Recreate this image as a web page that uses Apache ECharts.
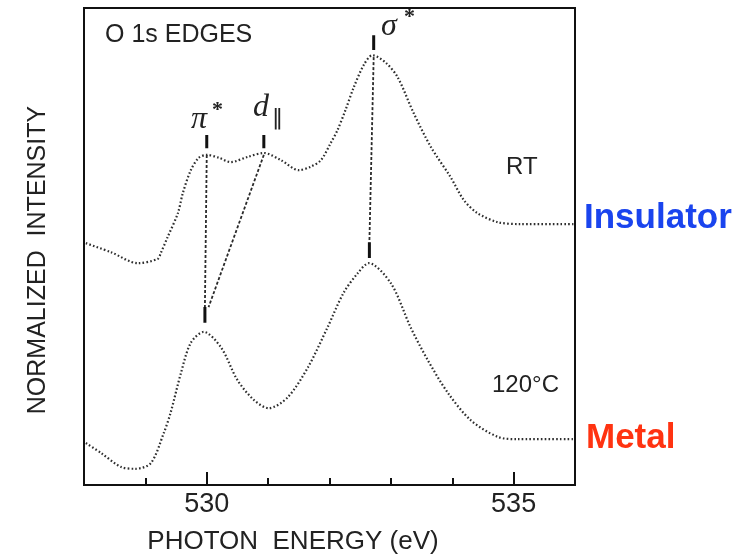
<!DOCTYPE html>
<html>
<head>
<meta charset="utf-8">
<script src="https://cdn.jsdelivr.net/npm/echarts@6/dist/echarts.min.js"></script>
<style>
  html, body { margin: 0; padding: 0; background: #fff; }
  #chart { width: 756px; height: 555px; }
</style>
</head>
<body>
<div id="chart"></div>
<script>
// O 1s edge spectra (intensity in arbitrary units, 0-100 across the frame)
const rtEnergy = [528.03, 528.44, 528.88, 529.20, 529.25, 529.36, 529.53, 529.61, 529.74, 529.87, 530.00, 530.20, 530.39, 530.67, 530.93, 531.21, 531.50, 531.69, 531.86, 532.02, 532.13, 532.26, 532.39, 532.56, 532.70, 532.92, 533.11, 533.37, 533.65, 533.97, 534.19, 534.41, 534.74, 535.11, 536.00];
const rtIntensity = [50.7, 48.8, 46.5, 47.4, 48.6, 51.9, 57.0, 61.2, 66.0, 68.6, 69.2, 68.6, 67.7, 68.8, 69.6, 68.1, 66.0, 66.7, 68.1, 71.7, 74.4, 78.6, 83.2, 88.1, 90.1, 88.5, 85.5, 78.0, 70.9, 64.6, 59.7, 57.0, 55.1, 54.7, 54.7];

const hotEnergy = [528.03, 528.28, 528.60, 528.84, 529.09, 529.30, 529.41, 529.58, 529.74, 529.95, 530.23, 530.50, 530.77, 531.01, 531.32, 531.65, 531.97, 532.23, 532.46, 532.64, 533.00, 533.32, 533.60, 533.93, 534.30, 534.74, 535.07, 536.00];
const hotIntensity = [8.8, 6.7, 3.8, 3.4, 4.6, 10.9, 15.1, 23.5, 29.8, 32.1, 28.9, 22.0, 17.8, 16.1, 18.4, 24.7, 33.1, 40.3, 44.4, 46.5, 42.3, 33.1, 26.2, 19.3, 13.6, 10.1, 9.6, 9.6];

// peak markers: [energy, from, to]
const peakTicks = [
  [530.00, 70.6, 73.4],
  [530.93, 70.6, 73.4],
  [532.72, 91.2, 94.3],
  [529.97, 34.0, 37.3],
  [532.65, 47.6, 50.9]
];
// guide lines joining the peaks of the two spectra
const guideLines = [
  [[530.00, 69.2], [529.97, 37.3]],
  [[530.93, 69.2], [530.03, 37.3]],
  [[532.72, 89.7], [532.65, 50.9]]
];
const xLabelTicks = [530, 535];

const zip = (xs, ys) => xs.map((x, i) => [x, ys[i]]);

const curveStyle = { color: '#2e2e2e', width: 2.2, type: [1.6, 2.2] };

const series = [
  { name: 'RT', type: 'line', data: zip(rtEnergy, rtIntensity), smooth: 0.3,
    showSymbol: false, lineStyle: curveStyle, silent: true },
  { name: '120°C', type: 'line', data: zip(hotEnergy, hotIntensity), smooth: 0.3,
    showSymbol: false, lineStyle: curveStyle, silent: true }
];
guideLines.forEach(seg => {
  series.push({ type: 'line', data: seg, showSymbol: false, silent: true,
    lineStyle: { color: '#2a2a2a', width: 1.8, type: [3, 2] } });
});
peakTicks.forEach(t => {
  series.push({ type: 'line', data: [[t[0], t[1]], [t[0], t[2]]], showSymbol: false, silent: true,
    lineStyle: { color: '#111', width: 3 } });
});

const sans = 'Liberation Sans, Arial, sans-serif';
const serif = 'Liberation Serif, DejaVu Serif, serif';

const chart = echarts.init(document.getElementById('chart'), null, { renderer: 'canvas' });
chart.setOption({
  animation: false,
  backgroundColor: '#fff',
  grid: {
    left: 84, right: 181, top: 8, bottom: 70,
    show: true, borderColor: '#111', borderWidth: 2,
    containLabel: false, outerBoundsMode: 'none'
  },
  xAxis: [
    {
      type: 'value', min: 528, max: 536, interval: 1, position: 'bottom',
      axisLine: { show: false },
      axisTick: { inside: true, length: 7, lineStyle: { color: '#111', width: 2 } },
      axisLabel: { show: false },
      splitLine: { show: false }
    },
    {
      type: 'value', min: 528, max: 536, interval: 1, position: 'bottom',
      axisLine: { show: false },
      axisTick: { inside: true, length: 13, customValues: xLabelTicks, lineStyle: { color: '#111', width: 2 } },
      axisLabel: { customValues: xLabelTicks, color: '#222', fontSize: 27, fontFamily: sans, margin: 6 },
      splitLine: { show: false }
    }
  ],
  yAxis: {
    type: 'value', min: 0, max: 100,
    axisLine: { show: false }, axisTick: { show: false },
    axisLabel: { show: false }, splitLine: { show: false }
  },
  graphic: [
    { type: 'text', x: 293, y: 542, style: { text: 'PHOTON  ENERGY (eV)', font: '26px ' + sans, fill: '#222', textAlign: 'center', textVerticalAlign: 'middle' } },
    { type: 'text', x: 38, y: 260, rotation: Math.PI / 2, style: { text: 'NORMALIZED  INTENSITY', font: '25px ' + sans, fill: '#222', textAlign: 'center', textVerticalAlign: 'middle' } },
    { type: 'text', x: 105, y: 35, style: { text: 'O 1s EDGES', font: '25px ' + sans, fill: '#222', textVerticalAlign: 'middle' } },
    { type: 'text', x: 506, y: 167, style: { text: 'RT', font: '24px ' + sans, fill: '#222', textVerticalAlign: 'middle' } },
    { type: 'text', x: 492, y: 385, style: { text: '120°C', font: '24px ' + sans, fill: '#222', textVerticalAlign: 'middle' } },
    { type: 'text', x: 584, y: 218, style: { text: 'Insulator', font: 'bold 35px ' + sans, fill: '#1a44ee', textVerticalAlign: 'middle' } },
    { type: 'text', x: 586, y: 438, style: { text: 'Metal', font: 'bold 35px ' + sans, fill: '#ff3311', textVerticalAlign: 'middle' } },
    { type: 'text', x: 191, y: 120, style: { text: 'π', font: 'italic 32px ' + serif, fill: '#222', textVerticalAlign: 'middle' } },
    { type: 'text', x: 212, y: 110, style: { text: '*', font: 'bold 22px ' + serif, fill: '#222', textVerticalAlign: 'middle' } },
    { type: 'text', x: 253, y: 108, style: { text: 'd', font: 'italic 32px ' + serif, fill: '#222', textVerticalAlign: 'middle' } },
    { type: 'text', x: 272, y: 118, style: { text: '‖', font: '22px DejaVu Sans, sans-serif', fill: '#222', textVerticalAlign: 'middle' } },
    { type: 'text', x: 381, y: 27, style: { text: 'σ', font: 'italic 32px ' + serif, fill: '#222', textVerticalAlign: 'middle' } },
    { type: 'text', x: 404, y: 17, style: { text: '*', font: 'bold 22px ' + serif, fill: '#222', textVerticalAlign: 'middle' } }
  ],
  series: series
});
window.addEventListener('resize', () => chart.resize());
</script>
</body>
</html>
